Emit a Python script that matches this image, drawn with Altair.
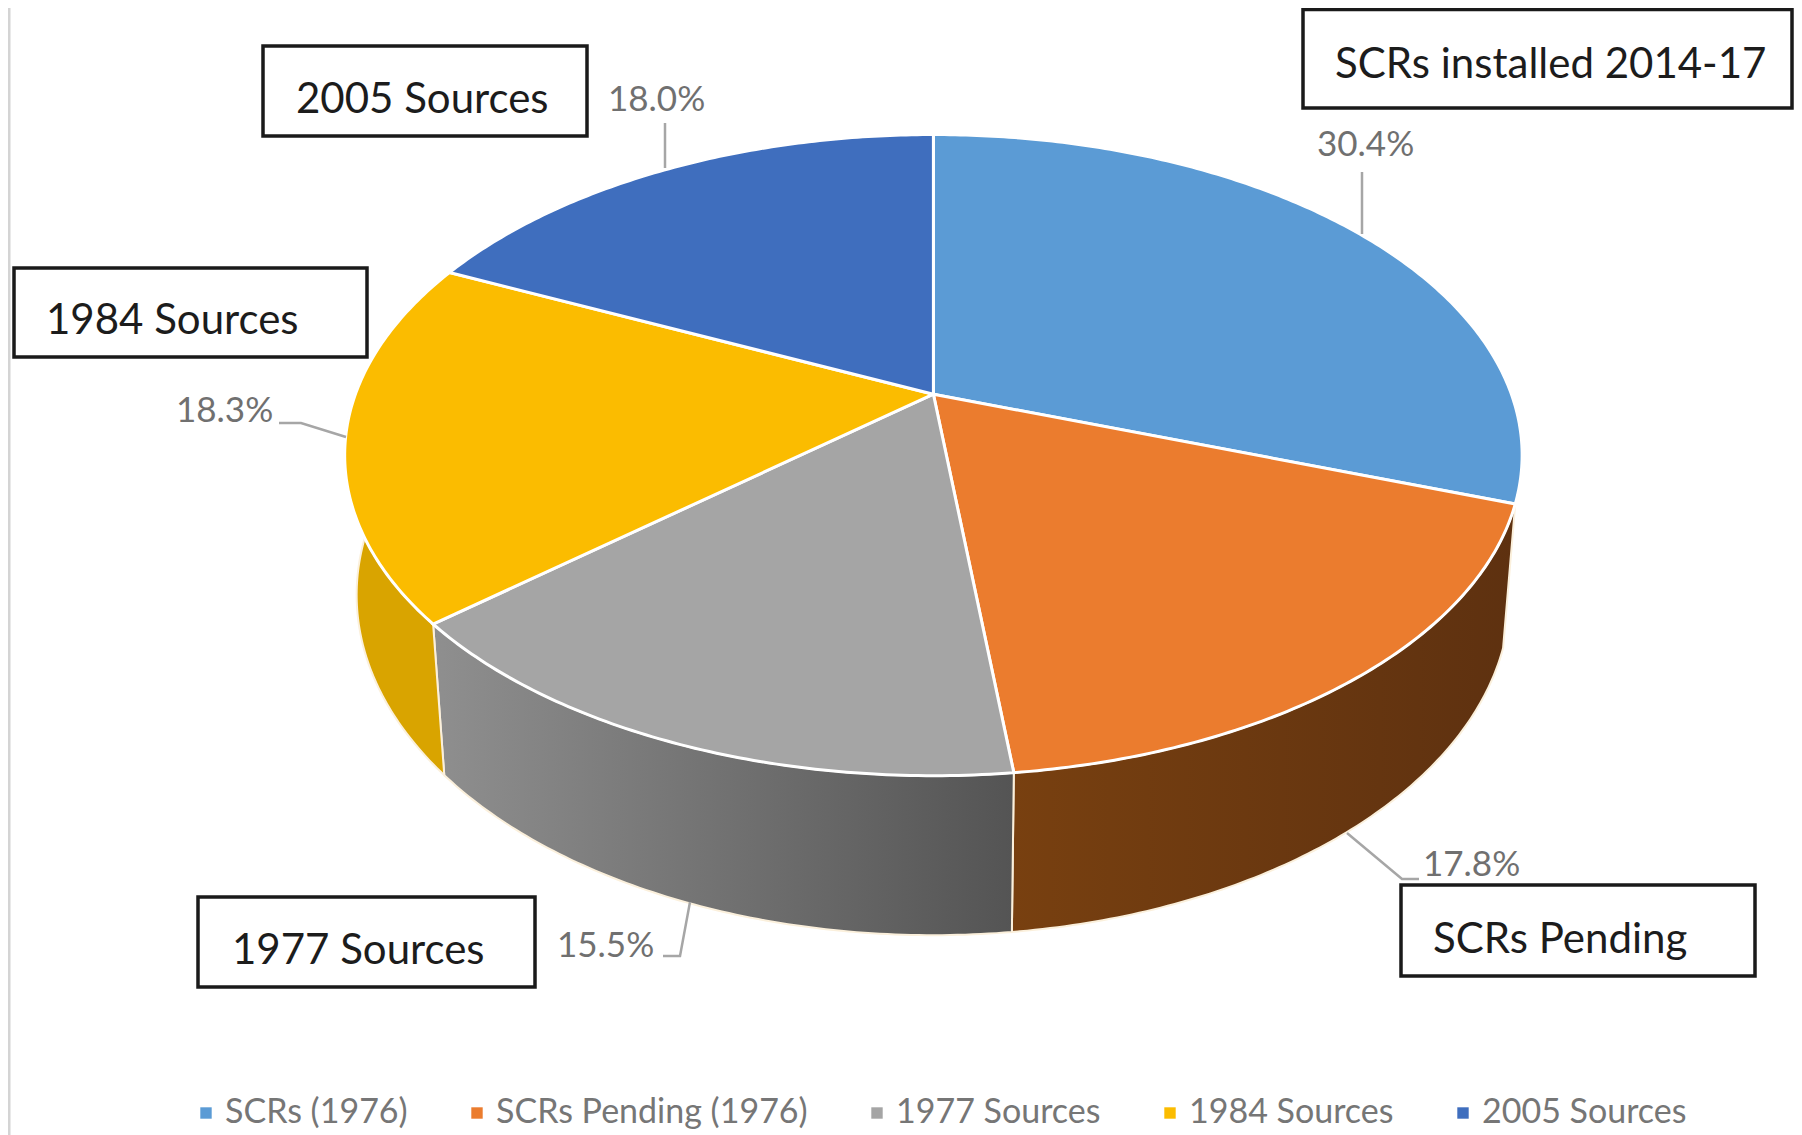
import math
import altair as alt

# ---- chart values ----
categories = ["SCRs (1976)", "SCRs Pending (1976)", "1977 Sources", "1984 Sources", "2005 Sources"]
shares = [30.4, 17.8, 15.5, 18.3, 18.0]
face_colors = ["#5B9BD5", "#EB7C2E", "#A5A5A5", "#FBBC00", "#3F6EBE"]
wall_stops = [None, ["#784010", "#5E3110"], ["#8F8F8F", "#545454"], ["#D9A400", "#D9A400"], None]
box_labels = ["SCRs installed 2014-17", "SCRs Pending", "1977 Sources", "1984 Sources", "2005 Sources"]

# ---- drawing area and 3D view of the disc ----
W, H = 1786, 1127
FONT = "Lato"
CX, CY = 925.4, 386.2
RX, RY, TILT = 578.0, 309.0, 0.19
DROP, DEPTH = 140.0, 1.02


def rim(a, low=False):
    u, v = math.sin(a), math.cos(a)
    w = (DEPTH if low else 1.0) + TILT * v
    return [CX + RX * u / w, CY + (-RY * v + (DROP if low else 0.0)) / w]


def arc(a0, a1, low=False):
    n = max(2, int(abs(a1 - a0) * 90))
    return [rim(a0 + (a1 - a0) * i / n, low) for i in range(n + 1)]


def feature(name, ring):
    return {"type": "Feature",
            "geometry": {"type": "Polygon", "coordinates": [ring + [ring[0]]]},
            "properties": {"name": name}}


bounds = [0.0]
for s in shares:
    bounds.append(bounds[-1] + s / sum(shares) * 2 * math.pi)

PROJ = dict(type="identity", scale=1, translate=[0, 0], reflectY=False)
layers = []

# side walls (only the ones facing the viewer)
for name, stops, a0, a1 in zip(categories, wall_stops, bounds[:-1], bounds[1:]):
    if stops is None:
        continue
    ring = arc(a0, a1) + arc(a1, a0, low=True)
    fill = alt.LinearGradient(gradient="linear", x1=0, x2=1, y1=0, y2=0,
                              stops=[alt.GradientStop(offset=0, color=stops[0]),
                                     alt.GradientStop(offset=1, color=stops[1])])
    layers.append(alt.Chart(alt.Data(values=[feature(name, ring)]))
                  .mark_geoshape(fill=fill, stroke="#FBF0DC", strokeWidth=2)
                  .project(**PROJ))

# top faces
faces = [feature(n, [[CX, CY]] + arc(a0, a1))
         for n, a0, a1 in zip(categories, bounds[:-1], bounds[1:])]
layers.append(
    alt.Chart(alt.Data(values=faces))
    .mark_geoshape(stroke="#FFFFFF", strokeWidth=3)
    .encode(color=alt.Color(
        "properties.name:N",
        sort=None,
        scale=alt.Scale(domain=categories, range=face_colors),
        legend=alt.Legend(orient="none", legendX=181, legendY=1088, direction="horizontal",
                          columns=5, title=None, symbolType="square", symbolSize=130,
                          symbolStrokeWidth=0, labelFont=FONT, labelFontSize=34,
                          labelColor="#767676", labelOffset=2, columnPadding=52,
                          labelLimit=400, padding=0)))
    .project(**PROJ))

SX = alt.Scale(domain=[0, W], nice=False, zero=False)
SY = alt.Scale(domain=[0, H], nice=False, zero=False, reverse=True)
X = alt.X("x:Q", axis=None, scale=SX)
Y = alt.Y("y:Q", axis=None, scale=SY)

# left page edge
edge = alt.Chart(alt.Data(values=[{"x": 0.5, "y": 0}, {"x": 0.5, "y": H}])).mark_line(
    color="#D4D4D4", strokeWidth=4).encode(x=X, y=Y)
layers.append(edge)

# callout boxes: left, right, top, bottom, text-left, text-centre
box_layout = [
    (1295, 1784, 1.5, 100, 1327, 57),
    (1393, 1747, 877, 968, 1425, 932),
    (190, 527, 889, 979, 224, 943),
    (6, 359, 260, 349, 38, 313),
    (255, 579, 38, 128, 288, 92),
]
boxes = [dict(x=b[0], x2=b[1], y=b[2], y2=b[3], tx=b[4], ty=b[5], label=t)
         for t, b in zip(box_labels, box_layout)]
layers.append(alt.Chart(alt.Data(values=boxes))
              .mark_rect(fill="#FFFFFF", stroke="#1A1A1A", strokeWidth=3.5)
              .encode(x=X, y=Y, x2="x2:Q", y2="y2:Q"))
layers.append(alt.Chart(alt.Data(values=boxes))
              .mark_text(font=FONT, fontSize=42, color="#1C1C1C", align="left", baseline="middle")
              .encode(x=alt.X("tx:Q", axis=None, scale=SX),
                      y=alt.Y("ty:Q", axis=None, scale=SY),
                      text="label:N"))

# percentage labels and their leader lines
pct_layout = [(1309, 137), (1415, 857), (549, 938), (168, 403), (600, 92)]
pcts = [dict(x=p[0], y=p[1], label=f"{s:.1f}%") for s, p in zip(shares, pct_layout)]
layers.append(alt.Chart(alt.Data(values=pcts))
              .mark_text(font=FONT, fontSize=35, color="#707070", align="left", baseline="middle")
              .encode(x=X, y=Y, text="label:N"))

leaders = [
    [(1354, 164), (1354, 226)],
    [(1411, 871), (1394, 871), (1339, 825)],
    [(655, 948), (672, 948), (682, 894)],
    [(271, 415), (293, 415), (338, 429)],
    [(657, 115), (657, 160)],
]
leader_rows = [dict(x=p[0], y=p[1], g=i, o=j) for i, seg in enumerate(leaders) for j, p in enumerate(seg)]
layers.append(alt.Chart(alt.Data(values=leader_rows))
              .mark_line(color="#A6A6A6", strokeWidth=2.5)
              .encode(x=X, y=Y, detail="g:N", order="o:Q"))

chart = (alt.layer(*layers)
         .resolve_scale(x="shared", y="shared")
         .properties(width=W, height=H, padding=0, autosize="none", background="#FFFFFF")
         .configure_view(stroke=None))

chart.save("out.html", embed_options={"renderer": "svg", "actions": False})
